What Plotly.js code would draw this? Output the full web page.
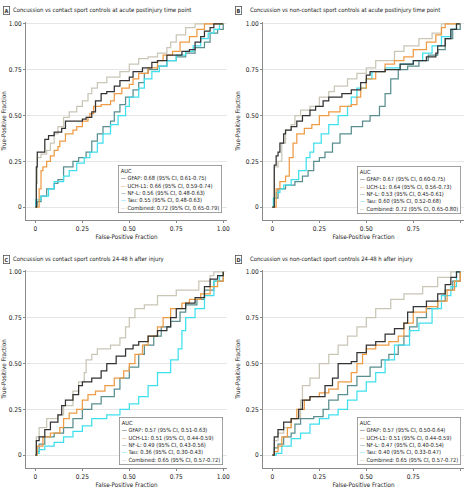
<!DOCTYPE html>
<html><head><meta charset="utf-8">
<script src="https://cdn.plot.ly/plotly-3.0.1.min.js"></script>
<style>html,body{margin:0;padding:0;background:#fff}#c{width:467px;height:492px}</style>
</head><body><div id="c"></div>
<script>
// ---------- DATA ----------
const seriesNames = ["GFAP", "UCH-L1", "NF-L", "Tau", "Combined"];
const panelLetters = ["A", "B", "C", "D"];
const panelTitles = [
  "Concussion vs contact sport controls at acute postinjury time point",
  "Concussion vs non-contact sport controls at acute postinjury time point",
  "Concussion vs contact sport controls 24-48 h after injury",
  "Concussion vs non-contact sport controls 24-48 h after injury"
];
const aucA = ["0.68 (95% CI, 0.61-0.75)", "0.66 (95% CI, 0.59-0.74)", "0.56 (95% CI, 0.48-0.63)", "0.55 (95% CI, 0.48-0.63)", "0.72 (95% CI, 0.65-0.79)"];
const aucB = ["0.67 (95% CI, 0.60-0.75)", "0.64 (95% CI, 0.56-0.73)", "0.53 (95% CI, 0.45-0.61)", "0.60 (95% CI, 0.52-0.68)", "0.72 (95% CI, 0.65-0.80)"];
const aucC = ["0.57 (95% CI, 0.51-0.63)", "0.51 (95% CI, 0.44-0.59)", "0.49 (95% CI, 0.43-0.56)", "0.36 (95% CI, 0.30-0.43)", "0.65 (95% CI, 0.57-0.72)"];
const aucD = ["0.57 (95% CI, 0.50-0.64)", "0.51 (95% CI, 0.44-0.59)", "0.47 (95% CI, 0.40-0.54)", "0.40 (95% CI, 0.33-0.47)", "0.65 (95% CI, 0.57-0.72)"];
const tickVals = [0, 0.25, 0.5, 0.75, 1];
const tickText = ["0", "0.25", "0.50", "0.75", "1.00"];

// Panel A
const aGfapX = [0,0.005,0.01,0.05,0.07,0.10,0.14,0.16,0.25,0.27,0.30,0.32,0.35,0.38,0.42,0.45,0.50,0.52,0.57,0.62,0.65,0.70,0.78,0.82,0.85,0.88,0.90,0.93,0.95,1];
const aGfapY = [0,0.22,0.30,0.37,0.39,0.41,0.43,0.47,0.48,0.49,0.52,0.58,0.62,0.63,0.66,0.69,0.71,0.74,0.76,0.79,0.80,0.83,0.85,0.86,0.90,0.93,0.96,0.98,1,1];
const aUchX = [0,0.02,0.03,0.04,0.06,0.08,0.10,0.12,0.13,0.16,0.20,0.22,0.25,0.28,0.29,0.31,0.35,0.40,0.42,0.46,0.50,0.52,0.55,0.60,0.65,0.68,0.73,0.77,0.82,0.86,0.90,1];
const aUchY = [0,0.10,0.20,0.22,0.25,0.28,0.31,0.33,0.36,0.40,0.42,0.44,0.47,0.49,0.51,0.55,0.56,0.58,0.62,0.65,0.67,0.70,0.73,0.76,0.80,0.83,0.85,0.90,0.93,0.97,1,1];
const aNflX = [0,0.01,0.03,0.06,0.10,0.12,0.15,0.20,0.23,0.27,0.30,0.33,0.36,0.40,0.42,0.45,0.48,0.52,0.55,0.58,0.60,0.65,0.70,0.75,0.80,0.85,0.90,0.93,0.97,1];
const aNflY = [0,0.03,0.06,0.10,0.13,0.15,0.22,0.25,0.27,0.30,0.36,0.40,0.44,0.47,0.52,0.56,0.60,0.64,0.68,0.73,0.75,0.77,0.80,0.82,0.84,0.87,0.90,0.95,0.97,1];
const aTauX = [0,0.002,0.02,0.03,0.07,0.10,0.15,0.18,0.22,0.26,0.29,0.33,0.36,0.40,0.44,0.48,0.50,0.55,0.58,0.62,0.66,0.70,0.75,0.80,0.84,0.88,0.92,0.95,0.98,1];
const aTauY = [0,0.04,0.04,0.06,0.10,0.14,0.17,0.20,0.24,0.27,0.30,0.35,0.40,0.45,0.50,0.55,0.60,0.65,0.70,0.74,0.77,0.80,0.83,0.85,0.88,0.92,0.95,0.97,1,1];
const aCombX = [0,0.005,0.01,0.03,0.06,0.08,0.10,0.12,0.15,0.18,0.22,0.25,0.28,0.30,0.33,0.38,0.45,0.50,0.55,0.60,0.65,0.70,0.72,0.75,0.80,0.85,1];
const aCombY = [0,0.13,0.27,0.29,0.31,0.35,0.40,0.44,0.49,0.52,0.55,0.58,0.62,0.65,0.68,0.71,0.74,0.78,0.81,0.82,0.84,0.87,0.90,0.94,0.98,1,1];

// Panel B
const bGfapX = [0,0.01,0.02,0.03,0.04,0.06,0.07,0.10,0.13,0.16,0.20,0.23,0.27,0.30,0.37,0.42,0.47,0.50,0.52,0.60,0.68,0.75,0.82,0.87,0.88,0.92,0.95,0.98,1];
const bGfapY = [0,0.23,0.28,0.30,0.35,0.40,0.42,0.44,0.47,0.50,0.53,0.55,0.58,0.60,0.62,0.64,0.68,0.72,0.74,0.75,0.78,0.80,0.82,0.84,0.88,0.92,0.97,1,1];
const bUchX = [0,0.02,0.04,0.07,0.09,0.11,0.13,0.17,0.21,0.25,0.30,0.36,0.42,0.45,0.47,0.50,0.55,0.60,0.65,0.70,0.75,0.82,0.87,0.90,0.92,1];
const bUchY = [0,0.10,0.14,0.17,0.27,0.35,0.40,0.43,0.45,0.50,0.52,0.55,0.56,0.60,0.65,0.70,0.74,0.78,0.80,0.82,0.86,0.90,0.94,0.98,1,1];
const bNflX = [0,0.01,0.03,0.07,0.12,0.16,0.19,0.22,0.25,0.28,0.32,0.36,0.42,0.48,0.52,0.57,0.60,0.63,0.67,0.72,0.78,0.83,0.88,0.92,0.96,1];
const bNflY = [0,0.05,0.10,0.12,0.14,0.17,0.20,0.25,0.27,0.30,0.35,0.40,0.44,0.47,0.50,0.55,0.62,0.70,0.75,0.77,0.80,0.83,0.86,0.92,0.97,1];
const bTauX = [0,0.005,0.02,0.04,0.06,0.10,0.14,0.18,0.20,0.22,0.26,0.30,0.35,0.40,0.42,0.45,0.50,0.53,0.60,0.68,0.75,0.80,0.85,0.90,0.95,0.98,1];
const bTauY = [0,0.05,0.08,0.10,0.12,0.15,0.20,0.27,0.30,0.35,0.40,0.45,0.50,0.55,0.60,0.65,0.70,0.74,0.76,0.78,0.80,0.84,0.88,0.93,0.97,1,1];
const bCombX = [0,0.01,0.03,0.05,0.07,0.10,0.12,0.15,0.20,0.25,0.30,0.33,0.40,0.45,0.50,0.55,0.65,0.70,0.78,0.85,0.90,1];
const bCombY = [0,0.22,0.25,0.35,0.42,0.45,0.50,0.53,0.55,0.60,0.63,0.66,0.70,0.73,0.76,0.80,0.85,0.88,0.92,0.95,1,1];

// Panel C
const cGfapX = [0,0.005,0.02,0.05,0.08,0.12,0.14,0.16,0.20,0.23,0.25,0.30,0.35,0.38,0.43,0.48,0.52,0.55,0.60,0.65,0.70,0.72,0.75,0.80,0.85,0.90,0.93,0.97,1];
const cGfapY = [0,0.08,0.10,0.14,0.18,0.22,0.27,0.30,0.33,0.38,0.40,0.42,0.46,0.50,0.54,0.58,0.60,0.62,0.65,0.68,0.70,0.75,0.80,0.83,0.86,0.92,0.96,0.98,1];
const cUchX = [0,0.01,0.04,0.08,0.13,0.15,0.18,0.22,0.25,0.28,0.32,0.37,0.42,0.47,0.50,0.53,0.57,0.60,0.65,0.68,0.72,0.78,0.82,0.88,0.93,0.97,1];
const cUchY = [0,0.05,0.10,0.12,0.15,0.20,0.23,0.25,0.30,0.33,0.35,0.38,0.42,0.46,0.50,0.55,0.60,0.65,0.70,0.75,0.80,0.83,0.85,0.88,0.92,0.95,1];
const cNflX = [0,0.01,0.02,0.05,0.10,0.15,0.20,0.25,0.30,0.35,0.42,0.45,0.50,0.55,0.58,0.63,0.67,0.72,0.77,0.80,0.86,0.90,0.95,1];
const cNflY = [0,0.02,0.06,0.10,0.12,0.15,0.20,0.25,0.28,0.32,0.36,0.42,0.48,0.55,0.60,0.65,0.70,0.73,0.78,0.82,0.85,0.90,0.95,1];
const cTauX = [0,0.01,0.02,0.05,0.10,0.15,0.20,0.25,0.30,0.38,0.45,0.50,0.55,0.60,0.65,0.72,0.76,0.78,0.80,0.85,0.90,0.95,0.98,1];
const cTauY = [0,0.01,0.03,0.05,0.07,0.10,0.13,0.16,0.20,0.22,0.25,0.28,0.32,0.38,0.45,0.52,0.58,0.68,0.75,0.80,0.87,0.95,0.98,1];
const cCombX = [0,0.005,0.02,0.06,0.12,0.15,0.20,0.23,0.26,0.27,0.30,0.33,0.40,0.45,0.48,0.50,0.53,0.58,0.65,0.75,0.87,0.93,0.95,1];
const cCombY = [0,0.10,0.15,0.20,0.22,0.27,0.35,0.40,0.45,0.52,0.55,0.58,0.60,0.64,0.70,0.75,0.80,0.82,0.87,0.90,0.95,0.98,1,1];

// Panel D
const dGfapX = [0,0.01,0.03,0.06,0.10,0.14,0.16,0.20,0.27,0.28,0.32,0.35,0.42,0.45,0.50,0.55,0.60,0.65,0.70,0.72,0.75,0.82,0.88,0.92,0.95,0.98,1];
const dGfapY = [0,0.10,0.14,0.18,0.20,0.25,0.30,0.32,0.32,0.38,0.42,0.50,0.51,0.56,0.60,0.62,0.66,0.69,0.72,0.78,0.81,0.84,0.88,0.93,0.97,1,1];
const dUchX = [0,0.01,0.03,0.05,0.08,0.10,0.13,0.17,0.20,0.25,0.30,0.35,0.42,0.45,0.48,0.50,0.55,0.62,0.67,0.70,0.75,0.82,0.88,0.93,0.97,1];
const dUchY = [0,0.02,0.05,0.10,0.15,0.20,0.25,0.30,0.32,0.34,0.36,0.40,0.45,0.50,0.55,0.58,0.60,0.62,0.65,0.72,0.78,0.81,0.84,0.90,0.95,1];
const dNflX = [0,0.01,0.03,0.06,0.10,0.12,0.15,0.22,0.27,0.30,0.35,0.40,0.45,0.52,0.58,0.62,0.67,0.70,0.73,0.77,0.82,0.88,0.92,0.96,1];
const dNflY = [0,0.04,0.06,0.10,0.12,0.17,0.20,0.21,0.25,0.30,0.33,0.38,0.43,0.48,0.52,0.55,0.60,0.65,0.70,0.75,0.80,0.84,0.90,0.95,1];
const dTauX = [0,0.02,0.05,0.10,0.15,0.20,0.25,0.30,0.35,0.40,0.45,0.50,0.55,0.60,0.65,0.73,0.78,0.85,0.90,0.95,0.98,1];
const dTauY = [0,0.01,0.05,0.09,0.12,0.17,0.20,0.22,0.25,0.30,0.35,0.40,0.45,0.52,0.60,0.68,0.72,0.80,0.87,0.92,1,1];
const dCombX = [0,0.01,0.03,0.06,0.10,0.15,0.16,0.20,0.25,0.30,0.35,0.40,0.45,0.50,0.55,0.63,0.70,0.80,0.88,0.95,1];
const dCombY = [0,0.08,0.12,0.15,0.20,0.30,0.38,0.42,0.50,0.55,0.60,0.65,0.70,0.75,0.80,0.85,0.88,0.92,0.97,1,1];

const panels = [
  {xs:[aGfapX,aUchX,aNflX,aTauX,aCombX], ys:[aGfapY,aUchY,aNflY,aTauY,aCombY], auc:aucA},
  {xs:[bGfapX,bUchX,bNflX,bTauX,bCombX], ys:[bGfapY,bUchY,bNflY,bTauY,bCombY], auc:aucB},
  {xs:[cGfapX,cUchX,cNflX,cTauX,cCombX], ys:[cGfapY,cUchY,cNflY,cTauY,cCombY], auc:aucC},
  {xs:[dGfapX,dUchX,dNflX,dTauX,dCombX], ys:[dGfapY,dUchY,dNflY,dTauY,dCombY], auc:aucD}
];

// ---------- STYLE ----------
const colors = ["#333333", "#ee9b45", "#5b8e8e", "#3fe0ee", "#c9c6b6"];
const drawOrder = [4, 2, 3, 1, 0];
const FONT = "'Liberation Sans Narrow', 'DejaVu Sans Condensed', 'Liberation Sans', sans-serif";
const W = 467, H = 492;

// fit font sizes to the widths measured on the reference
const cv = document.createElement("canvas").getContext("2d");
function fitSize(text, targetPx, maxSize) {
  cv.font = "10px " + FONT;
  const w = cv.measureText(text).width;
  return Math.min(maxSize, 10 * targetPx / w);
}
const titleSize = fitSize(panelTitles[0], 179, 8);
const legendSize = fitSize("Combined: 0.72 (95% CI, 0.65-0.79)", 92, 7.5);
const axTitleSize = fitSize("False-Positive Fraction", 62, 8);
const tickSize = fitSize("0.50", 13, 8);

const xDomPx = [[26, 227], [263, 464], [26, 227], [263, 464]];
const yDomPx = [[22, 220], [22, 220], [270, 468], [270, 468]];
const legPos = [[0.975, 0.035], [0.985, 0.03], [0.98, 0.015], [0.985, 0.015]];
const titlePos = [[3, 11, 11], [235, 11, 248], [3, 259, 11], [235, 259, 248]];

const traces = [];
const layout = {
  width: W, height: H,
  margin: {l: 0, r: 0, t: 0, b: 0},
  paper_bgcolor: "#fff", plot_bgcolor: "#fff",
  showlegend: false,
  font: {family: FONT, size: tickSize, color: "#222"},
  annotations: []
};

panels.forEach((p, i) => {
  const n = i + 1;
  const xa = n === 1 ? "x" : "x" + n;
  const ya = n === 1 ? "y" : "y" + n;
  drawOrder.forEach(k => {
    traces.push({
      x: p.xs[k], y: p.ys[k], xaxis: xa, yaxis: ya,
      type: "scatter", mode: "lines",
      line: {color: colors[k], width: 1.25, shape: "hv"},
      name: seriesNames[k], hoverinfo: "skip"
    });
  });
  const axCommon = {
    tickvals: tickVals, ticktext: tickText,
    tickfont: {family: FONT, size: tickSize, color: "#222"},
    showline: true, linecolor: "#8a8a8a", linewidth: 1,
    ticks: "outside", ticklen: 2, tickcolor: "#8a8a8a",
    zeroline: false, fixedrange: true
  };
  layout["xaxis" + (n === 1 ? "" : n)] = Object.assign({}, axCommon, {
    domain: [xDomPx[i][0] / W, xDomPx[i][1] / W],
    range: [-0.05, 1.02],
    showgrid: false,
    anchor: ya,
    title: {text: "False-Positive Fraction", font: {family: FONT, size: axTitleSize, color: "#222"}, standoff: 2}
  });
  layout["yaxis" + (n === 1 ? "" : n)] = Object.assign({}, axCommon, {
    domain: [1 - yDomPx[i][1] / H, 1 - yDomPx[i][0] / H],
    range: [-0.07, 1.01],
    showgrid: true, gridcolor: "#e6e6e6", gridwidth: 1,
    anchor: xa,
    title: {text: "True-Positive Fraction", font: {family: FONT, size: axTitleSize, color: "#222"}, standoff: 4}
  });

  // panel letter and title
  const tp = titlePos[i];
  layout.annotations.push({
    xref: "paper", yref: "paper", x: tp[0] / W, y: 1 - tp[1] / H,
    xanchor: "left", yanchor: "middle", showarrow: false,
    text: "<b>" + panelLetters[i] + "</b>",
    font: {family: FONT, size: 5.5, color: "#333"},
    bordercolor: "#555", borderwidth: 0.8, borderpad: 0.8, bgcolor: "#fff"
  });
  layout.annotations.push({
    xref: "paper", yref: "paper", x: tp[2] / W, y: 1 - tp[1] / H,
    xanchor: "left", yanchor: "middle", showarrow: false,
    text: panelTitles[i],
    font: {family: FONT, size: titleSize, color: "#1a1a1a"}
  });

  // AUC legend box
  let txt = "AUC";
  for (let k = 0; k < 5; k++) {
    txt += "<br><span style='color:" + colors[k] + "'>\u2014</span> " + seriesNames[k] + ": " + p.auc[k];
  }
  layout.annotations.push({
    xref: xa + " domain", yref: ya + " domain",
    x: legPos[i][0], y: legPos[i][1], xanchor: "right", yanchor: "bottom",
    showarrow: false, align: "left",
    text: txt,
    font: {family: FONT, size: legendSize, color: "#222"},
    bordercolor: "#8a8a8a", borderwidth: 0.8, borderpad: 2, bgcolor: "#fff"
  });
});

Plotly.newPlot("c", traces, layout, {displayModeBar: false, staticPlot: true});
</script></body></html>
